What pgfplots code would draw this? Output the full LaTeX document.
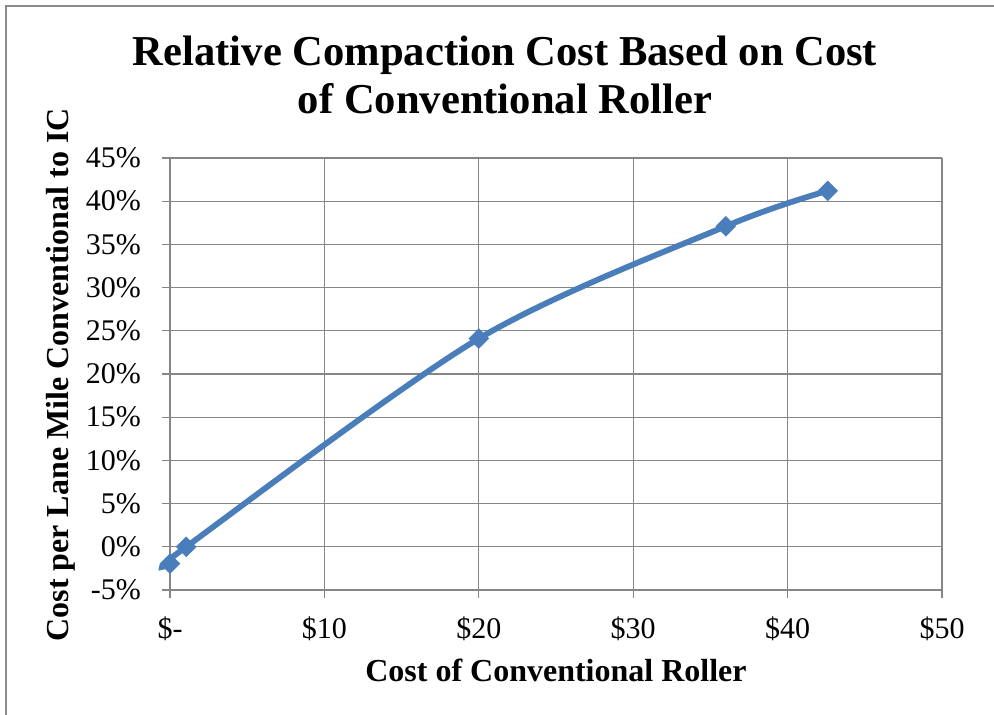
\documentclass[border=0pt]{standalone}
\usepackage{fontspec}
\setmainfont{Liberation Serif}
\usepackage{pgfplots}
\pgfplotsset{compat=1.18}

\definecolor{seriesblue}{RGB}{74,126,187}
\definecolor{gridgray}{RGB}{134,134,134}
\definecolor{framegray}{RGB}{140,140,140}

% relative cost vs. conventional roller cost (in $)
\pgfplotstableread{
cost   rel
0      -1.95
1.05   0.0
20     24.1
36     37.1
42.6   41.2
}\compaction

\begin{document}
\begin{tikzpicture}
  \useasboundingbox (0pt,0pt) rectangle (497pt,357.5pt);
  % chart frame
  \draw[framegray,line width=0.6pt] (3pt,0pt) -- (3pt,354.5pt) -- (497pt,354.5pt);
  \begin{axis}[
    at={(85pt,62.5pt)}, anchor=south west,
    scale only axis,
    width=386pt, height=216pt,
    xmin=0, xmax=50, ymin=-5, ymax=45,
    xtick={0,10,...,50},
    xticklabels={\$-,\$10,\$20,\$30,\$40,\$50},
    ytick={-5,0,...,45},
    yticklabels={-5\%,0\%,5\%,10\%,15\%,20\%,25\%,30\%,35\%,40\%,45\%},
    /pgf/number format/assume math mode=true,
    tick label style={font=\fontsize{15pt}{18pt}\selectfont},
    xticklabel style={yshift=-6pt},
    yticklabel shift=7pt,
    grid=major,
    major grid style={gridgray,line width=0.6pt},
    axis line style={gridgray,line width=0.6pt},
    tick style={gridgray,line width=0.6pt},
    tick align=outside,
    major tick length=4pt,
    axis lines*=left,
    clip=false,
    title={Relative Compaction Cost Based on Cost\\of Conventional Roller},
    title style={font=\bfseries\fontsize{21.3pt}{24pt}\selectfont,
      align=center, at={(axis description cs:0.434,1.058)}, anchor=south},
    xlabel={Cost of Conventional Roller},
    xlabel style={font=\bfseries\fontsize{16pt}{19pt}\selectfont,
      at={(axis description cs:0.5,-0.212)}, anchor=base},
    ylabel={Cost per Lane Mile Conventional to IC},
    ylabel style={font=\bfseries\fontsize{16pt}{19pt}\selectfont,
      at={(axis description cs:-0.132,0.498)}, anchor=base, rotate=0},
  ]
    \addplot[seriesblue, line width=2.9pt, smooth, tension=0.5,
      mark=square*, mark size=3.4pt,
      mark options={rotate=45, fill=seriesblue, draw=seriesblue, line width=0.5pt}]
      table[x=cost, y=rel] {\compaction};
  \end{axis}
\end{tikzpicture}
\end{document}
